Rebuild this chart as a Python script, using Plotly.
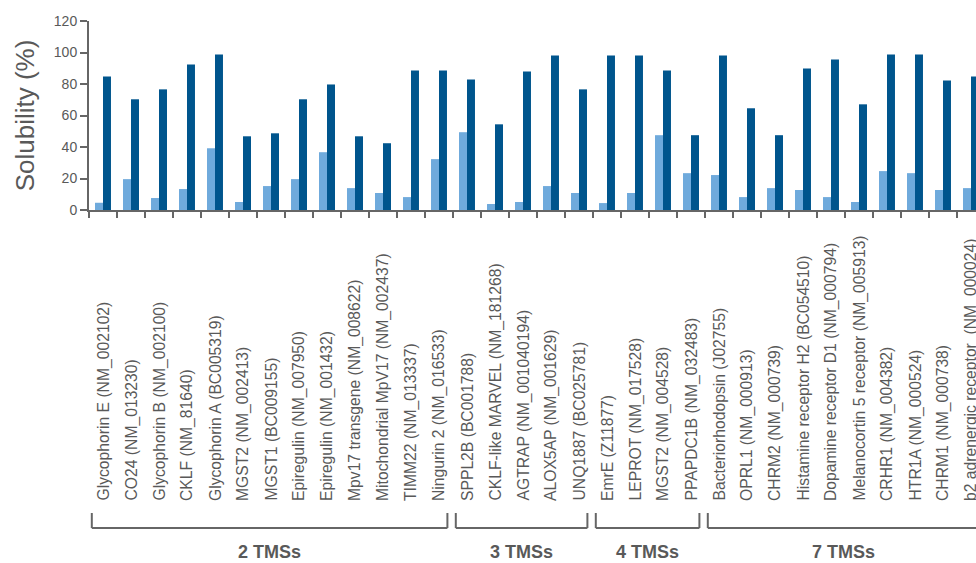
import plotly.graph_objects as go

categories = [
    "Glycophorin E (NM_002102)", "CO24 (NM_013230)", "Glycophorin B (NM_002100)",
    "CKLF (NM_81640)", "Glycophorin A (BC005319)", "MGST2 (NM_002413)",
    "MGST1 (BC009155)", "Epiregulin (NM_007950)", "Epiregulin (NM_001432)",
    "Mpv17 transgene (NM_008622)", "Mitochondrial MpV17 (NM_002437)",
    "TIMM22 (NM_013337)", "Ningurin 2 (NM_016533)",
    "SPPL2B (BC001788)", "CKLF-like MARVEL (NM_181268)", "AGTRAP (NM_001040194)",
    "ALOX5AP (NM_001629)", "UNQ1887 (BC025781)",
    "EmrE (Z11877)", "LEPROT (NM_017528)", "MGST2 (NM_004528)", "PPAPDC1B (NM_032483)",
    "Bacteriorhodopsin (J02755)", "OPRL1 (NM_000913)", "CHRM2 (NM_000739)",
    "Histamine receptor H2 (BC054510)", "Dopamine receptor D1 (NM_000794)",
    "Melanocortin 5 receptor (NM_005913)", "CRHR1 (NM_004382)", "HTR1A (NM_000524)",
    "CHRM1 (NM_000738)", "b2 adrenergic receptor  (NM_000024)",
]

series_light = [4.6, 19.6, 7.6, 13.3, 39.2, 5.1, 15.2, 19.6, 36.7, 13.9, 10.8, 8.2, 32.3,
                49.4, 3.8, 5.1, 15.2, 10.8,
                4.4, 10.8, 47.5, 23.4,
                22.2, 8.2, 13.9, 12.7, 8.2, 5.1, 24.7, 23.4, 12.7, 13.9]
series_dark = [84.8, 70.3, 76.6, 92.4, 98.7, 46.8, 48.7, 70.3, 79.7, 46.8, 42.4, 88.6, 88.6,
               82.9, 54.4, 88.0, 98.1, 76.6,
               98.1, 98.1, 88.6, 47.5,
               98.1, 64.6, 47.5, 89.9, 95.6, 67.1, 98.7, 98.7, 82.3, 84.8]

group_labels = ["2 TMSs", "3 TMSs", "4 TMSs", "7 TMSs"]
group_sizes = [13, 5, 4, 10]

y_ticks = [0, 20, 40, 60, 80, 100, 120]

GRAY = "#666666"
TEXT = "#595959"
FONT = "Liberation Sans, Arial, sans-serif"

idx = list(range(len(categories)))

fig = go.Figure()
fig.add_trace(go.Bar(x=idx, y=series_light, marker_color="#6FAADC", marker_line_width=0))
fig.add_trace(go.Bar(x=idx, y=series_dark, marker_color="#00558D", marker_line_width=0))

H = 563
top, bottom = 21, 210
ph = bottom - top


def py(pix):
    return (bottom - pix) / ph


annotations = []
for i, c in enumerate(categories):
    annotations.append(dict(
        x=i, xref="x", y=py(503), yref="paper", text=c, textangle=-90,
        showarrow=False, xanchor="center", yanchor="bottom",
        font=dict(family=FONT, size=15.7, color=TEXT),
    ))

shapes = []
start = 0
for g, n in zip(group_labels, group_sizes):
    end = start + n - 1
    x0 = start - 0.4
    x1 = end + 0.3
    yt, yb = py(513), py(528)
    line = dict(color=GRAY, width=2)
    shapes.append(dict(type="line", xref="x", yref="paper", x0=x0, x1=x0, y0=yt, y1=yb, line=line))
    shapes.append(dict(type="line", xref="x", yref="paper", x0=x1, x1=x1, y0=yt, y1=yb, line=line))
    shapes.append(dict(type="line", xref="x", yref="paper", x0=x0, x1=x1, y0=yb, y1=yb, line=line))
    annotations.append(dict(
        x=(x0 + x1) / 2, xref="x", y=py(552), yref="paper", text="<b>%s</b>" % g,
        showarrow=False, xanchor="center", yanchor="middle",
        font=dict(family=FONT, size=18, color=TEXT),
    ))
    start += n

fig.update_layout(
    width=976, height=H, autosize=False,
    margin=dict(l=89, r=0, t=top, b=H - bottom, pad=0),
    paper_bgcolor="white", plot_bgcolor="white",
    barmode="group", bargap=0.43, bargroupgap=0,
    showlegend=False,
    font=dict(family=FONT, color=TEXT),
    xaxis=dict(
        type="linear", range=[-0.5, -0.5 + (976 - 89) / 28],
        showgrid=False, zeroline=False, showticklabels=False,
        showline=True, linecolor=GRAY, linewidth=2,
        ticks="outside", ticklen=6, tickwidth=2, tickcolor=GRAY,
        tickmode="array", tickvals=[i - 0.5 for i in range(len(categories) + 1)],
    ),
    yaxis=dict(
        range=[0, 120], tickvals=y_ticks, showgrid=False, zeroline=False,
        showline=True, linecolor=GRAY, linewidth=2,
        ticks="outside", ticklen=7, tickwidth=2, tickcolor=GRAY,
        tickfont=dict(family=FONT, size=14, color=TEXT),
        title=dict(text="Solubility (%)", font=dict(family=FONT, size=26, color=TEXT), standoff=12),
    ),
    shapes=shapes,
    annotations=annotations,
)

fig.write_html(
    "out.html",
    config={"displayModeBar": False},
    post_script="document.body.style.margin='0';document.body.style.padding='0';document.body.style.overflow='hidden';",
)
